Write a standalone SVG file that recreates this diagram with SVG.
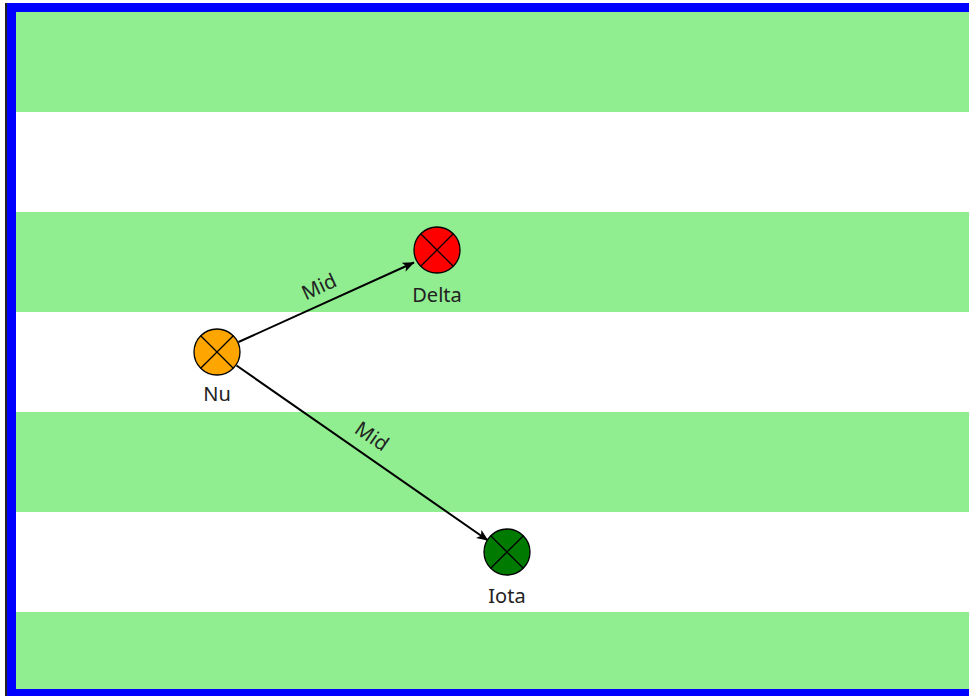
<svg xmlns="http://www.w3.org/2000/svg" width="969" height="696" viewBox="0 0 969 696">
<defs>
<style>
.band{fill:#90ee90}
.node{stroke:#000;stroke-width:1.3}
.x{stroke:#000;stroke-width:1.3}
.lbl{font-family:"Segoe UI","Noto Sans","Open Sans","DejaVu Sans",sans-serif;font-size:20px;fill:#222;text-anchor:middle}
.edge{stroke:#000;stroke-width:2;fill:none;marker-end:url(#arr)}
</style>
<marker id="arr" viewBox="0 0 12 10" refX="11.5" refY="5" markerWidth="6" markerHeight="5" orient="auto" markerUnits="strokeWidth">
<path d="M0,0 L12,5 L0,10 L3,5 Z" fill="#000"/>
</marker>
</defs>
<rect x="0" y="0" width="969" height="696" fill="#fff"/>
<g id="bands">
<rect class="band" x="16" y="12" width="953" height="100"/>
<rect class="band" x="16" y="212" width="953" height="100"/>
<rect class="band" x="16" y="412" width="953" height="100"/>
<rect class="band" x="16" y="612" width="953" height="77"/>
</g>
<g id="frame">
<line x1="6" y1="3" x2="6" y2="696" stroke="#222" stroke-width="2"/>
<rect x="11.5" y="7.5" width="975" height="686" fill="none" stroke="#0000ff" stroke-width="9"/>
</g>
<g id="connectors">
<line class="edge" x1="238.5" y1="342" x2="414" y2="262.5"/>
<text class="lbl" transform="translate(322,293) rotate(-24.9)">Mid</text>
<line class="edge" x1="236.5" y1="365.5" x2="488" y2="540.5"/>
<text class="lbl" transform="translate(368,442) rotate(34.6)">Mid</text>
</g>
<g id="node-nu">
<circle class="node" cx="217" cy="352" r="23" fill="#ffa500"/>
<path class="x" d="M200.7,335.7 L233.3,368.3 M233.3,335.7 L200.7,368.3"/>
<text class="lbl" x="217" y="401">Nu</text>
</g>
<g id="node-delta">
<circle class="node" cx="437" cy="250" r="23" fill="#ff0000"/>
<path class="x" d="M420.7,233.7 L453.3,266.3 M453.3,233.7 L420.7,266.3"/>
<text class="lbl" x="437" y="302">Delta</text>
</g>
<g id="node-iota">
<circle class="node" cx="507" cy="552" r="23" fill="#007a00"/>
<path class="x" d="M490.7,535.7 L523.3,568.3 M523.3,535.7 L490.7,568.3"/>
<text class="lbl" x="507" y="603">Iota</text>
</g>
</svg>
